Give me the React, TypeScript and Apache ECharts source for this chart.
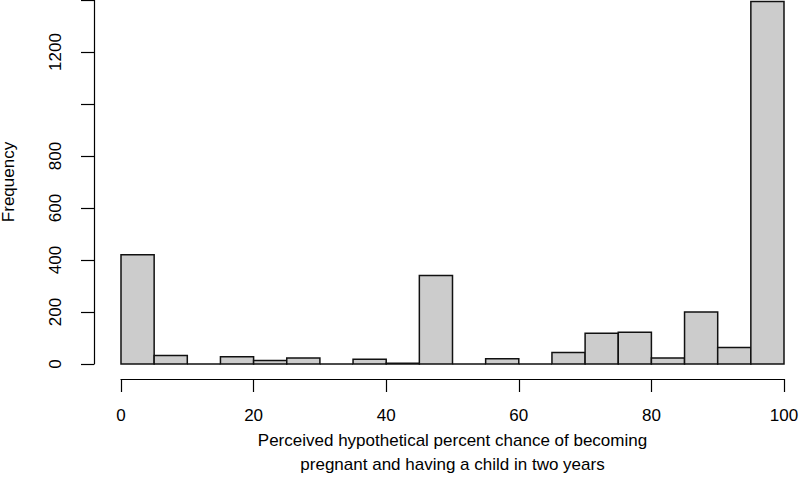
import React, { useEffect, useRef } from "react";
import * as echarts from "echarts";

const binStarts = [0, 5, 10, 15, 20, 25, 30, 35, 40, 45, 50, 55, 60, 65, 70, 75, 80, 85, 90, 95];
const binWidth = 5;
const counts = [420, 33, 0, 28, 13, 23, 0, 18, 3, 340, 0, 20, 0, 44, 118, 122, 23, 200, 63, 1394];
const xTicks = [0, 20, 40, 60, 80, 100];
const yLabelsShown = [0, 200, 400, 600, 800, 1200];
const xTitle = "Perceived hypothetical percent chance of becoming\npregnant and having a child in two years";
const yTitle = "Frequency";

const FONT = "'Liberation Sans', Arial, sans-serif";

export default function App() {
  const ref = useRef<HTMLDivElement>(null);
  useEffect(() => {
    document.body.style.margin = "0";
    const chart = echarts.init(ref.current!, null, { renderer: "svg" });
    const data = binStarts.map((s, i) => [s, s + binWidth, counts[i]]);
    chart.setOption({
      animation: false,
      backgroundColor: "#ffffff",
      grid: { left: 121, right: 16, top: 0, bottom: 114, containLabel: false, outerBoundsMode: "none" },
      xAxis: {
        type: "value",
        min: 0,
        max: 100,
        interval: 20,
        offset: 15,
        splitLine: { show: false },
        axisLine: { show: true, onZero: false, lineStyle: { color: "#000", width: 1.2 } },
        axisTick: { show: true, length: 13, lineStyle: { color: "#000", width: 1.2 } },
        axisLabel: {
          margin: 28,
          color: "#000",
          fontSize: 17,
          fontFamily: FONT,
          formatter: (v: number) => (xTicks.includes(v) ? String(v) : ""),
        },
        name: xTitle,
        nameLocation: "middle",
        nameGap: 49,
        nameTextStyle: { color: "#000", fontSize: 17, fontFamily: FONT, lineHeight: 24, align: "center" },
      },
      yAxis: {
        type: "value",
        min: 0,
        max: 1400,
        interval: 200,
        offset: 27,
        splitLine: { show: false },
        axisLine: { show: true, onZero: false, lineStyle: { color: "#000", width: 1.2 } },
        axisTick: { show: true, length: 13, lineStyle: { color: "#000", width: 1.2 } },
        axisLabel: {
          rotate: 90,
          margin: 30,
          color: "#000",
          fontSize: 17,
          fontFamily: FONT,
          formatter: (v: number) => (yLabelsShown.includes(v) ? String(v) : ""),
        },
      },
      graphic: [
        {
          type: "text",
          x: 8,
          y: 182,
          rotation: Math.PI / 2,
          style: {
            text: yTitle,
            fill: "#000",
            fontSize: 17,
            fontFamily: FONT,
            align: "center",
            verticalAlign: "middle",
          },
        },
      ],
      series: [
        {
          type: "custom",
          clip: false,
          data,
          renderItem: (params: any, api: any) => {
            const x0 = api.value(0);
            const x1 = api.value(1);
            const y = api.value(2);
            const p0 = api.coord([x0, y]);
            const p1 = api.coord([x1, 0]);
            return {
              type: "rect",
              shape: { x: p0[0], y: p0[1], width: p1[0] - p0[0], height: p1[1] - p0[1] },
              style: { fill: "#cccccc", stroke: "#111", lineWidth: 1.5 },
            };
          },
        },
      ],
    });
    return () => chart.dispose();
  }, []);
  return <div ref={ref} style={{ position: "absolute", left: 0, top: 0, width: 800, height: 478 }} />;
}
